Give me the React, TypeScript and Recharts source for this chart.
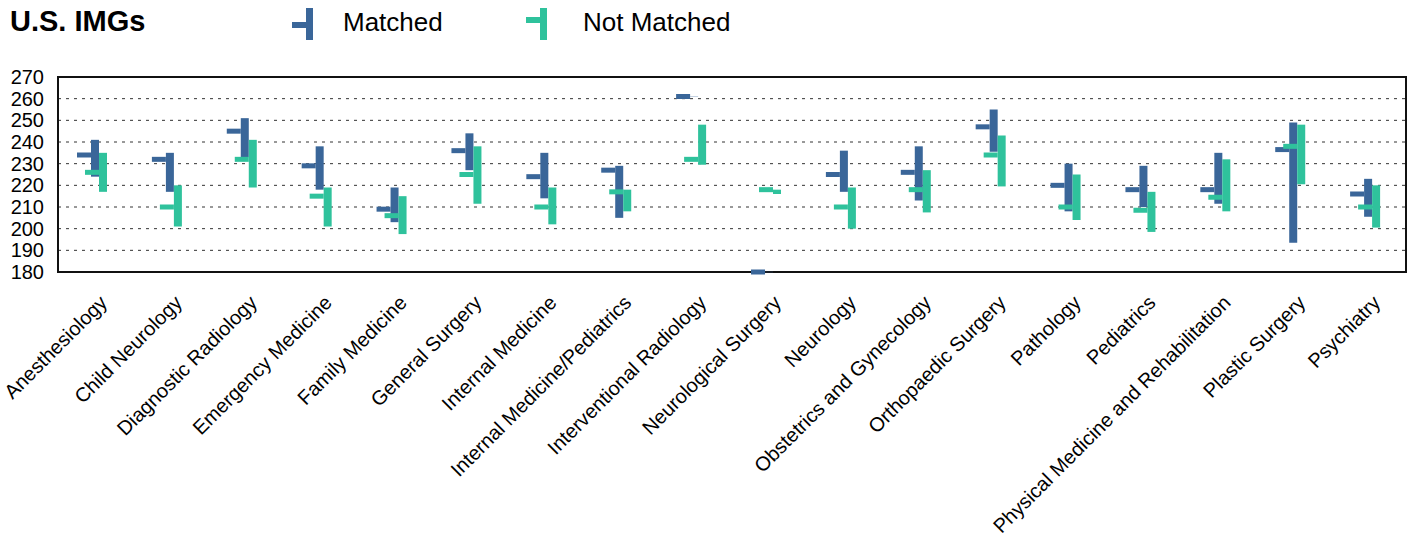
import React from "react";
import { BarChart, Bar, XAxis, YAxis, CartesianGrid, ReferenceArea } from "recharts";

const categories = [
  "Anesthesiology",
  "Child Neurology",
  "Diagnostic Radiology",
  "Emergency Medicine",
  "Family Medicine",
  "General Surgery",
  "Internal Medicine",
  "Internal Medicine/Pediatrics",
  "Interventional Radiology",
  "Neurological Surgery",
  "Neurology",
  "Obstetrics and Gynecology",
  "Orthopaedic Surgery",
  "Pathology",
  "Pediatrics",
  "Physical Medicine and Rehabilitation",
  "Plastic Surgery",
  "Psychiatry",
];

// Matched: range (low-high) and mean tick
const matchedHigh = [241, 235, 251, 238, 219, 244, 235, 229, 261, 180, 236, 238, 255, 230, 229, 235, 249, 223];
const matchedLow = [224, 217, 233, 218, 203, 227, 214, 205, 261, 180, 217, 213, 235.5, 208, 210, 211.5, 193.5, 205.5];
const matchedMean = [234, 232, 245, 229, 209, 236, 224, 227, 261, 180, 225, 226, 247, 220, 218, 218, 236.5, 216];

// Not matched
const notMatchedHigh = [235, 220, 241, 219, 215, 238, 219, 218, 248, 218, 219, 227, 243, 225, 217, 232, 248, 220];
const notMatchedLow = [217, 201, 219, 201, 197.5, 211.5, 202, 208, 229.5, 216, 200, 207.5, 219.5, 204, 198.5, 208, 220.5, 200.5];
const notMatchedMean = [226, 210, 232, 215, 206, 225, 210, 217, 232, 218, 210, 218, 234, 210, 208.5, 214.5, 238, 210];

const yTicks = [180, 190, 200, 210, 220, 230, 240, 250, 260, 270];

const BLUE = "#3a6699";
const GREEN = "#2fc29c";
const FONT = "'Liberation Sans', Arial, sans-serif";

const data = categories.map((name, i) => ({
  name,
  mLow: matchedLow[i],
  mHigh: matchedHigh[i],
  mMean: matchedMean[i],
  nLow: notMatchedLow[i],
  nHigh: notMatchedHigh[i],
  nMean: notMatchedMean[i],
}));

// high-low bar with a mean tick on the left
const rangeShape =
  (color: string, lowKey: string, highKey: string, meanKey: string) =>
  // eslint-disable-next-line @typescript-eslint/no-explicit-any
  (props: any) => {
    const { x, y, width, height, payload } = props;
    const low = payload[lowKey];
    const high = payload[highKey];
    const mean = payload[meanKey];
    const top = Math.min(y, y + height);
    const h = Math.abs(height);
    const frac = high === low ? 0 : (high - mean) / (high - low);
    const ty = top + frac * h;
    const bx = x + 4;
    return (
      <g>
        {h > 0 ? (
          <rect x={bx} y={top} width={width} height={h} fill={color} />
        ) : (
          <rect x={bx} y={top - 0.5} width={width} height={1} fill={color} opacity={0.3} />
        )}
        <rect x={bx - 14} y={ty - 2.5} width={14} height={5} fill={color} />
      </g>
    );
  };

// eslint-disable-next-line @typescript-eslint/no-explicit-any
const XTick = (props: any) => {
  const { x, y, payload } = props;
  return (
    <g transform={`translate(${x + 13},${y + 32})`}>
      <text transform="rotate(-45)" textAnchor="end" fontSize={20} fill="#000" fontFamily={FONT}>
        {payload.value}
      </text>
    </g>
  );
};

const LegendIcon = ({ x, color, tickY }: { x: number; color: string; tickY: number }) => (
  <g>
    <rect x={x} y={tickY - 3} width={14} height={6} fill={color} />
    <rect x={x + 14} y={8} width={7} height={32} fill={color} />
  </g>
);

export default function App() {
  return (
    <div style={{ position: "absolute", left: 0, top: 0, width: 1413, height: 546, background: "#fff" }}>
      <svg width={1413} height={50} style={{ position: "absolute", left: 0, top: 0 }}>
        <text x={10} y={31} fontSize={29} fontWeight="bold" fontFamily={FONT} fill="#000">
          U.S. IMGs
        </text>
        <LegendIcon x={292} color={BLUE} tickY={25} />
        <text x={343} y={31} fontSize={26} fontFamily={FONT} fill="#000">
          Matched
        </text>
        <LegendIcon x={526} color={GREEN} tickY={20} />
        <text x={583} y={31} fontSize={26} fontFamily={FONT} fill="#000">
          Not Matched
        </text>
      </svg>
      <div style={{ position: "absolute", left: 0, top: 0 }}>
        <BarChart
          width={1413}
          height={546}
          data={data}
          margin={{ top: 77, right: 7, bottom: 0, left: 0 }}
          barSize={8}
          barGap={0}
        >
          <CartesianGrid vertical={false} stroke="#333" strokeDasharray="3 5" />
          <XAxis
            dataKey="name"
            interval={0}
            tickLine={false}
            axisLine={false}
            tickSize={0}
            tickMargin={0}
            height={274}
            tick={<XTick />}
          />
          <YAxis
            domain={[180, 270]}
            ticks={yTicks}
            interval={0}
            width={58}
            tickLine={false}
            axisLine={false}
            tickMargin={8}
            tick={{ fontSize: 20, fill: "#000", fontFamily: FONT }}
          />
          <ReferenceArea y1={180} y2={270} fill="none" stroke="#111" strokeWidth={2} />
          <Bar
            name="Matched"
            dataKey={(d: { mLow: number; mHigh: number }) => [d.mLow, d.mHigh]}
            fill={BLUE}
            isAnimationActive={false}
            shape={rangeShape(BLUE, "mLow", "mHigh", "mMean")}
          />
          <Bar
            name="Not Matched"
            dataKey={(d: { nLow: number; nHigh: number }) => [d.nLow, d.nHigh]}
            fill={GREEN}
            isAnimationActive={false}
            shape={rangeShape(GREEN, "nLow", "nHigh", "nMean")}
          />
        </BarChart>
      </div>
    </div>
  );
}
